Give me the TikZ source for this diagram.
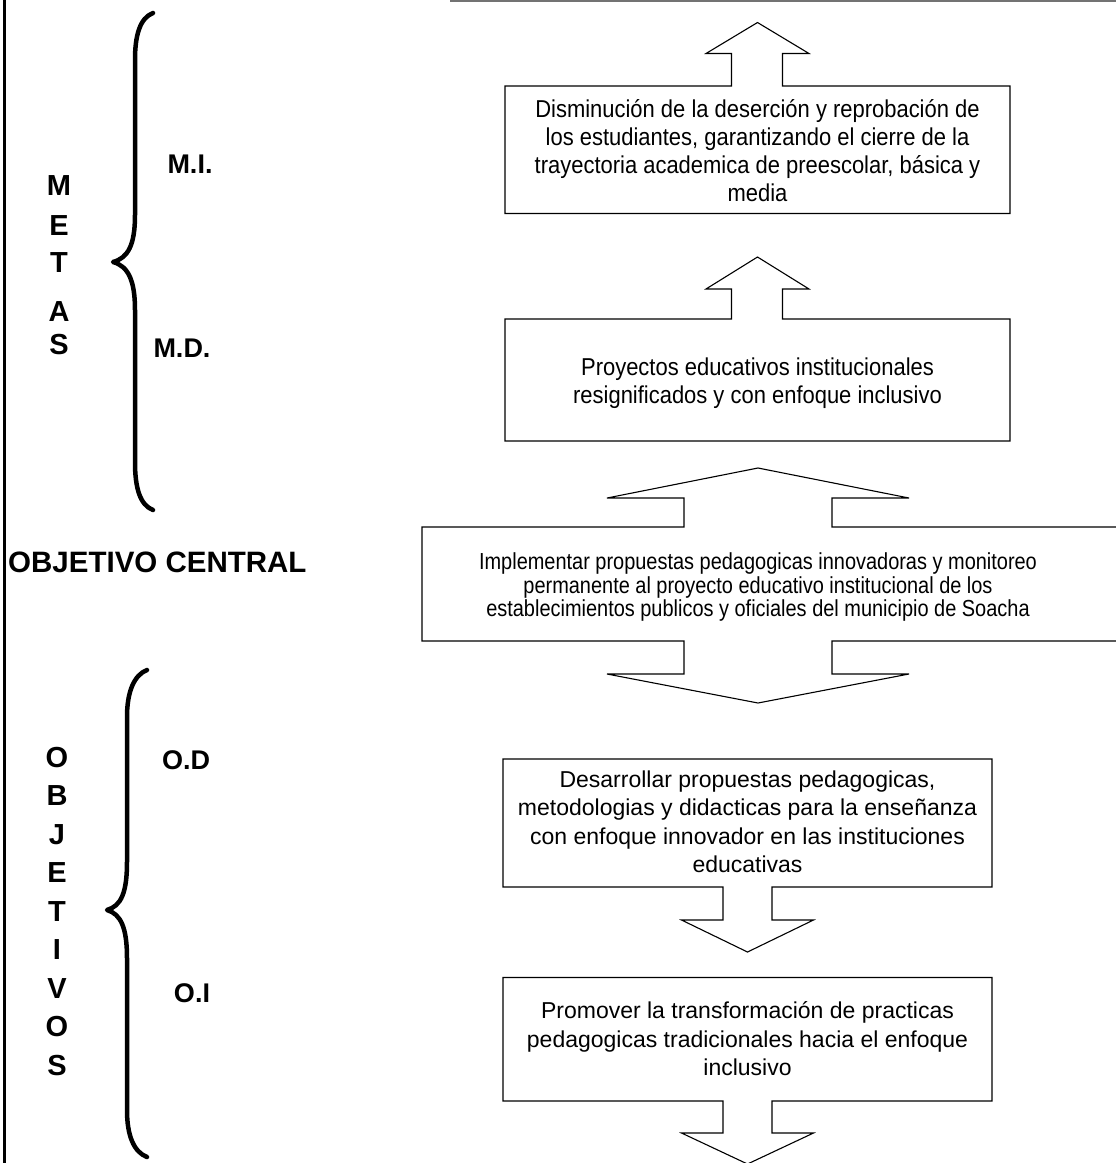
\documentclass[tikz,border=0pt]{standalone}
\usepackage{fontspec}
\setmainfont{Liberation Sans}
\newfontfamily\narrowsans[FakeStretch=0.9]{Liberation Sans}
\newfontfamily\condsans[FakeStretch=0.86]{Liberation Sans}
\begin{document}
\begin{tikzpicture}[x=1pt,y=-1pt,
  boxtext/.style={align=center, inner sep=0pt},
  outline/.style={draw=black, line width=1.1pt, line join=miter},
  bracestroke/.style={draw=black, line width=4.5pt, line cap=round, line join=round},
  sideletter/.style={font=\bfseries\fontsize{29}{29}\selectfont, inner sep=0pt},
  tag/.style={font=\bfseries\fontsize{27}{27}\selectfont, inner sep=0pt}]
\useasboundingbox (0,0) rectangle (1116,1163);

% scan borders
\draw[black, line width=3pt] (4,0) -- (4,1163);
\draw[black!55, line width=1.6pt] (450,1) -- (1116,1);

% ---- boxes with text ----
\node[boxtext, font=\narrowsans\fontsize{24.4}{27.8}\selectfont] (b1) at (757.5,150.5)
  {Disminución de la deserción y reprobación de\\los estudiantes, garantizando el cierre de la\\trayectoria academica de preescolar, básica y\\media};
\node[boxtext, font=\narrowsans\fontsize{24.4}{27.8}\selectfont] (b2) at (757.5,383)
  {Proyectos educativos institucionales\\resignificados y con enfoque inclusivo};
\node[boxtext, font=\condsans\fontsize{23.2}{23.5}\selectfont] (b3) at (758,587)
  {Implementar propuestas pedagogicas innovadoras y monitoreo\\permanente al proyecto educativo institucional de los\\establecimientos publicos y oficiales del municipio de Soacha};
\node[boxtext, font=\fontsize{23}{28.5}\selectfont] (b4) at (747.5,822)
  {Desarrollar propuestas pedagogicas,\\metodologias y didacticas para la enseñanza\\con enfoque innovador en las instituciones\\educativas};
\node[boxtext, font=\fontsize{23}{28.5}\selectfont] (b5) at (747.5,1039)
  {Promover la transformación de practicas\\pedagogicas tradicionales hacia el enfoque\\inclusivo};

% ---- outlines (box + block arrows) ----
\begin{scope}[shift={(b1.center)}]
  \draw[outline] (-252.5,-64.5) -- (-26,-64.5) -- (-26,-97) -- (-51.5,-97) -- (0,-128)
    -- (51.5,-97) -- (25,-97) -- (25,-64.5) -- (252.5,-64.5) -- (252.5,63) -- (-252.5,63) -- cycle;
\end{scope}
\begin{scope}[shift={(b2.center)}]
  \draw[outline] (-252.5,-64) -- (-26,-64) -- (-26,-94) -- (-51.5,-94) -- (0,-126)
    -- (51.5,-94) -- (25,-94) -- (25,-64) -- (252.5,-64) -- (252.5,58) -- (-252.5,58) -- cycle;
\end{scope}
\begin{scope}[shift={(b3.center)}]
  \draw[outline] (-336,-60) -- (-74,-60) -- (-74,-89) -- (-151,-89) -- (0,-119)
    -- (151,-89) -- (74,-89) -- (74,-60) -- (370,-60) -- (370,54)
    -- (74,54) -- (74,87) -- (151,87) -- (0,116) -- (-151,87) -- (-74,87) -- (-74,54)
    -- (-336,54) -- cycle;
\end{scope}
\begin{scope}[shift={(b4.center)}]
  \draw[outline] (-244.5,-63) -- (244.5,-63) -- (244.5,65) -- (24.5,65) -- (24.5,98)
    -- (66,98) -- (0,130) -- (-66,98) -- (-24.5,98) -- (-24.5,65) -- (-244.5,65) -- cycle;
\end{scope}
\begin{scope}[shift={(b5.center)}]
  \draw[outline] (-244.5,-61.5) -- (244.5,-61.5) -- (244.5,62) -- (24.5,62) -- (24.5,94)
    -- (66,94) -- (0,125) -- (-66,94) -- (-24.5,94) -- (-24.5,62) -- (-244.5,62) -- cycle;
\end{scope}

% ---- left side ----
\foreach \l/\y [count=\i] in {M/186,E/226,T/263,A/312,S/345}
  \node[sideletter] (metas\i) at (59,\y) {\l};
\foreach \l/\y [count=\i] in {O/758,B/796,J/835,E/873,T/912,I/950,V/989,O/1027,S/1066}
  \node[sideletter] (obj\i) at (57,\y) {\l};

\node[font=\bfseries\fontsize{29.5}{29.5}\selectfont, inner sep=0pt, anchor=west] (oc) at (8,562) {OBJETIVO CENTRAL};

\node[tag] (mi) at (190,164) {M.I.};
\node[tag] (md) at (182,348) {M.D.};
\node[tag] (od) at (186,760) {O.D};
\node[tag] (oi) at (192,993) {O.I};

\draw[bracestroke] (153,13) .. controls (140,18) and (135,35) .. (135,60) -- (135,215)
  .. controls (135,245) and (128,258) .. (113,262)
  .. controls (128,266) and (135,280) .. (135,310) -- (135,462)
  .. controls (135,488) and (140,505) .. (153,510);
\draw[bracestroke] (147,670) .. controls (134,675) and (127,692) .. (127,717) -- (127,862)
  .. controls (127,893) and (121,906) .. (107,910)
  .. controls (121,914) and (127,928) .. (127,958) -- (127,1110)
  .. controls (127,1136) and (134,1152) .. (147,1157);
\end{tikzpicture}
\end{document}
